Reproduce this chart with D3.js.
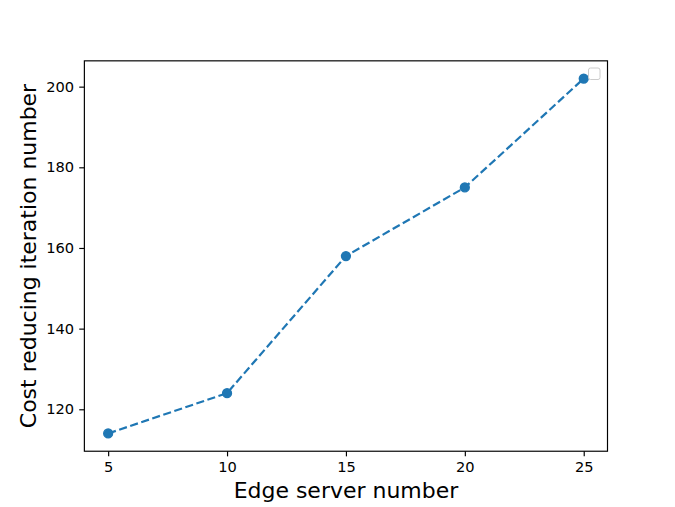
<!DOCTYPE html>
<html>
<head>
<meta charset="utf-8">
<script src="https://cdn.jsdelivr.net/npm/d3@7"></script>
<style>
  body { margin: 0; background: #fff; }
  text { font-family: "DejaVu Sans", sans-serif; fill: #000; }
</style>
</head>
<body>
<svg id="chart" width="675" height="507"></svg>
<script>
// data
const servers = [5, 10, 15, 20, 25];
const iterations = [114, 124, 158, 175, 202];
const xTicks = [5, 10, 15, 20, 25];
const yTicks = [120, 140, 160, 180, 200];

const pt = 675 / 6.4 / 72;   // px per point
const W = 675, H = 507;
const margin = { left: 0.125 * W, right: 0.9 * W, top: 0.12 * H, bottom: 0.89 * H };

const svg = d3.select("#chart");

// matplotlib style 5% padding
const xPad = (d3.max(servers) - d3.min(servers)) * 0.05;
const yPad = (d3.max(iterations) - d3.min(iterations)) * 0.05;

const x = d3.scaleLinear()
  .domain([d3.min(servers) - xPad, d3.max(servers) + xPad])
  .range([margin.left, margin.right]);
const y = d3.scaleLinear()
  .domain([d3.min(iterations) - yPad, d3.max(iterations) + yPad])
  .range([margin.bottom, margin.top]);

const tickLen = 3.5 * pt;

const xAxis = svg.append("g")
  .attr("transform", `translate(0,${margin.bottom})`)
  .call(d3.axisBottom(x).tickValues(xTicks).tickSize(tickLen).tickPadding(3.5 * pt).tickFormat(d3.format("d")));
const yAxis = svg.append("g")
  .attr("transform", `translate(${margin.left},0)`)
  .call(d3.axisLeft(y).tickValues(yTicks).tickSize(tickLen).tickPadding(3.5 * pt).tickFormat(d3.format("d")));

[xAxis, yAxis].forEach((g) => {
  g.select(".domain").remove();
  g.selectAll(".tick line").attr("stroke", "#000").attr("stroke-width", 0.8 * pt);
  g.selectAll(".tick text")
    .attr("font-family", "DejaVu Sans, sans-serif")
    .attr("font-size", 10 * pt)
    .attr("fill", "#000");
});

// line + markers
const line = d3.line()
  .x((d, i) => x(servers[i]))
  .y((d) => y(d));

svg.append("path")
  .datum(iterations)
  .attr("d", line)
  .attr("fill", "none")
  .attr("stroke", "#1f77b4")
  .attr("stroke-width", 1.5 * pt)
  .attr("stroke-dasharray", `${3.7 * 1.5 * pt},${1.6 * 1.5 * pt}`);

// marker size 6pt plus 1pt edge
svg.append("g")
  .selectAll("circle")
  .data(iterations)
  .join("circle")
  .attr("cx", (d, i) => x(servers[i]))
  .attr("cy", (d) => y(d))
  .attr("r", 3 * pt)
  .attr("fill", "#1f77b4")
  .attr("stroke", "#1f77b4")
  .attr("stroke-width", 1 * pt);

// frame
svg.append("rect")
  .attr("x", margin.left).attr("y", margin.top)
  .attr("width", margin.right - margin.left)
  .attr("height", margin.bottom - margin.top)
  .attr("fill", "none")
  .attr("stroke", "#000")
  .attr("stroke-width", 0.8 * pt);

// empty legend box
svg.append("rect")
  .attr("x", 588.5).attr("y", 68)
  .attr("width", 11.5).attr("height", 11.5)
  .attr("rx", 2)
  .attr("fill", "#fff")
  .attr("fill-opacity", 0.8)
  .attr("stroke", "#cccccc")
  .attr("stroke-width", 1);

// axis labels
svg.append("text")
  .attr("x", (margin.left + margin.right) / 2)
  .attr("y", 498)
  .attr("text-anchor", "middle")
  .attr("font-size", 15 * pt)
  .text("Edge server number");

svg.append("text")
  .attr("transform", `translate(36,${(margin.top + margin.bottom) / 2}) rotate(-90)`)
  .attr("text-anchor", "middle")
  .attr("font-size", 15 * pt)
  .text("Cost reducing iteration number");
</script>
</body>
</html>
